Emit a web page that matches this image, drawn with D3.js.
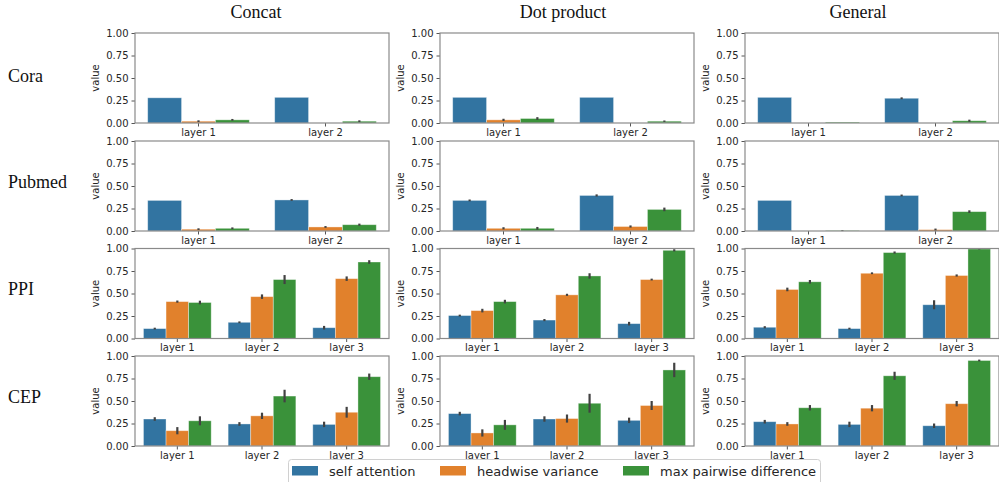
<!DOCTYPE html>
<html><head><meta charset="utf-8">
<script src="https://cdn.jsdelivr.net/npm/d3@7/dist/d3.min.js"></script>
<style>body{margin:0;background:#fff}svg{display:block}</style>
</head><body>
<svg id="c" width="999" height="482"></svg>
<script>
const datasets = ["Cora","Pubmed","PPI","CEP"];
const methods = ["Concat","Dot product","General"];
const series = ["self attention","headwise variance","max pairwise difference"];
const colors = ["#3274a1","#e1812c","#3a923a"];
const layersShort = ["layer 1","layer 2"];
const layersLong = ["layer 1","layer 2","layer 3"];
const yTicks = [0,0.25,0.5,0.75,1.0];

// values: [method][series][layer]
const coraVal = [
  [[0.28,0.285],[0.02,0],[0.035,0.02]],
  [[0.285,0.285],[0.035,0],[0.05,0.02]],
  [[0.285,0.275],[0,0],[0.01,0.025]]
];
const coraErr = [
  [[0,0],[0.01,0],[0.01,0.01]],
  [[0,0],[0.012,0],[0.015,0.008]],
  [[0,0.01],[0,0],[0,0.012]]
];
const pubmedVal = [
  [[0.34,0.345],[0.02,0.045],[0.03,0.07]],
  [[0.34,0.395],[0.03,0.05],[0.03,0.24]],
  [[0.34,0.395],[0,0.015],[0.004,0.215]]
];
const pubmedErr = [
  [[0,0.01],[0.01,0.01],[0.01,0.012]],
  [[0.01,0.012],[0.012,0.012],[0.015,0.02]],
  [[0,0.01],[0,0.012],[0.005,0.015]]
];
const ppiVal = [
  [[0.11,0.18,0.12],[0.41,0.465,0.665],[0.40,0.655,0.85]],
  [[0.255,0.205,0.165],[0.31,0.485,0.655],[0.41,0.695,0.98]],
  [[0.125,0.11,0.375],[0.545,0.725,0.70],[0.63,0.955,0.995]]
];
const ppiErr = [
  [[0.01,0.01,0.02],[0.012,0.025,0.025],[0.02,0.05,0.02]],
  [[0.01,0.012,0.02],[0.02,0.012,0.01],[0.02,0.03,0.012]],
  [[0.012,0.01,0.05],[0.02,0.01,0.012],[0.02,0.012,0.006]]
];
const cepVal = [
  [[0.30,0.245,0.24],[0.17,0.335,0.375],[0.28,0.555,0.77]],
  [[0.36,0.30,0.285],[0.145,0.305,0.45],[0.235,0.475,0.845]],
  [[0.27,0.24,0.225],[0.245,0.42,0.47],[0.425,0.78,0.95]]
];
const cepErr = [
  [[0.02,0.02,0.03],[0.04,0.035,0.06],[0.05,0.07,0.035]],
  [[0.02,0.03,0.03],[0.04,0.045,0.05],[0.055,0.105,0.08]],
  [[0.02,0.03,0.025],[0.02,0.035,0.03],[0.03,0.045,0.01]]
];

const rowVals = [coraVal,pubmedVal,ppiVal,cepVal];
const rowErrs = [coraErr,pubmedErr,ppiErr,cepErr];
const rowLayers = [layersShort,layersShort,layersLong,layersLong];

const svg = d3.select("#c");
const colX = [135,440,745];
const panelW = 254;
const rowY = [33,141,248.5,356];
const panelH = 90;
const titleX = [256,563,858];
const rowLabelY = [82,188,295,403];

methods.forEach((m,i)=>{
  svg.append("text").attr("x",titleX[i]).attr("y",18).attr("text-anchor","middle")
    .attr("font-family","Liberation Serif, Times New Roman, serif").attr("font-size",18)
    .attr("fill","#111").text(m);
});
datasets.forEach((d,r)=>{
  svg.append("text").attr("x",8).attr("y",rowLabelY[r])
    .attr("font-family","Liberation Serif, Times New Roman, serif").attr("font-size",18)
    .attr("fill","#111").text(d);
});

const y = d3.scaleLinear().domain([0,1]).range([panelH,0]);

for(let r=0;r<4;r++){
  for(let c=0;c<3;c++){
    const g = svg.append("g").attr("transform",`translate(${colX[c]},${rowY[r]})`);
    const layers = rowLayers[r];
    const x0 = d3.scaleBand().domain(layers).range([0,panelW]).paddingInner(0.2).paddingOuter(0.1);
    const x1 = d3.scaleBand().domain(d3.range(3)).range([0,x0.bandwidth()]);
    const vals = rowVals[r][c], errs = rowErrs[r][c];
    const bars = [];
    series.forEach((s,si)=>layers.forEach((l,li)=>bars.push({si,l,v:vals[si][li],e:errs[si][li]})));
    g.selectAll("rect.bar").data(bars).enter().append("rect")
      .attr("x",d=>x0(d.l)+x1(d.si)).attr("width",x1.bandwidth())
      .attr("y",d=>y(d.v)).attr("height",d=>y(0)-y(d.v))
      .attr("fill",d=>colors[d.si]).attr("stroke","rgba(255,255,255,0.45)").attr("stroke-width",0.8);
    g.selectAll("line.err").data(bars.filter(d=>d.e>0)).enter().append("line")
      .attr("x1",d=>x0(d.l)+x1(d.si)+x1.bandwidth()/2).attr("x2",d=>x0(d.l)+x1(d.si)+x1.bandwidth()/2)
      .attr("y1",d=>y(d.v-d.e)).attr("y2",d=>y(d.v+d.e))
      .attr("stroke","#424242").attr("stroke-width",2.2);
    // axes
    const ya = d3.axisLeft(y).tickValues(yTicks).tickFormat(d3.format(".2f")).tickSize(3.5).tickPadding(3);
    const yg = g.append("g").call(ya);
    const xa = d3.axisBottom(x0).tickSize(3.5).tickPadding(2);
    const xg = g.append("g").attr("transform",`translate(0,${panelH})`).call(xa);
    [yg,xg].forEach(a=>{
      a.select(".domain").remove();
      a.selectAll("line").attr("stroke","#555");
      a.selectAll("text").attr("font-family","DejaVu Sans, sans-serif").attr("font-size",10).attr("fill","#262626");
    });
    g.append("rect").attr("x",0).attr("y",0).attr("width",panelW).attr("height",panelH)
      .attr("fill","none").attr("stroke","#8a8a8a").attr("stroke-width",1.2);
    g.append("text").attr("transform",`translate(-36,${panelH/2}) rotate(-90)`).attr("text-anchor","middle")
      .attr("font-family","DejaVu Sans, sans-serif").attr("font-size",10).attr("fill","#262626").text("value");
  }
}

// legend
const lg = svg.append("g");
lg.append("rect").attr("x",288.5).attr("y",459.5).attr("width",532).attr("height",30).attr("rx",3)
  .attr("fill","#fff").attr("stroke","#d0d0d0").attr("stroke-width",1);
const legX = [292,440,623];
series.forEach((s,i)=>{
  lg.append("rect").attr("x",legX[i]).attr("y",466).attr("width",26).attr("height",9.5).attr("fill",colors[i]);
  lg.append("text").attr("x",legX[i]+37).attr("y",475.5).attr("font-family","DejaVu Sans, sans-serif")
    .attr("font-size",13).attr("fill","#262626").text(s);
});
</script>
</body></html>
